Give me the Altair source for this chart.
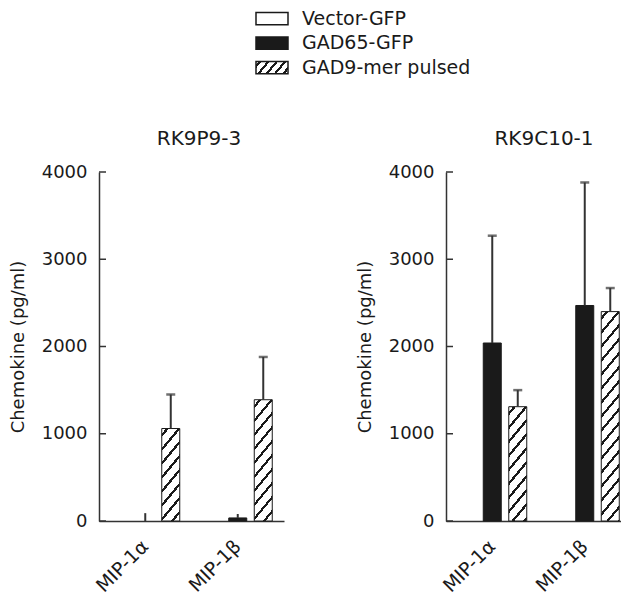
import altair as alt
import pandas as pd

# ---------------- data ----------------
categories = ["MIP-1α", "MIP-1β"]
series = ["Vector-GFP", "GAD65-GFP", "GAD9-mer pulsed"]
panel_titles = ["RK9P9-3", "RK9C10-1"]
y_ticks = [0, 1000, 2000, 3000, 4000]

rk9p9_vector = [0, 0]
rk9p9_vector_err = [0, 0]
rk9p9_gad65 = [0, 35]
rk9p9_gad65_err = [90, 45]
rk9p9_gad9 = [1060, 1390]
rk9p9_gad9_err = [390, 490]

rk9c10_vector = [0, 0]
rk9c10_vector_err = [0, 0]
rk9c10_gad65 = [2040, 2470]
rk9c10_gad65_err = [1230, 1410]
rk9c10_gad9 = [1310, 2400]
rk9c10_gad9_err = [190, 270]

# ---------------- style / layout ----------------
FONT = "DejaVu Sans"
INK = "#1a1a1a"
AXIS = "#333333"
PLOT_H = 349
Y_MAX = 4000
STEP = 92.5          # px per chemokine group
X_PI = 0.254         # inner padding of the group band
GROUP_START = 11.75  # px from the y axis to the first group band
OFF_PI, OFF_PO = 0.294, 0.0
FILL_RANGE = ["white", INK, "white"]

_band = STEP * (1 - X_PI)
_sub = _band / (len(series) - OFF_PI + 2 * OFF_PO)
BAR_W = _sub * (1 - OFF_PI)


def band_params(width):
    n = len(categories)
    po = (width / STEP - (n - X_PI)) / 2
    space = width - STEP * (n - X_PI)
    align = GROUP_START / space
    return po, align


def hatch(w, h, d, s=1.2, th=2.2, color=INK):
    """Linear gradient with hard stops that looks like '/' hatching."""
    h = max(h, 0.5)
    L = s * w + h
    k = L / (s * s * w * w + h * h)
    tc = th * (1 + s * s) ** 0.5
    stops = [{"offset": 0, "color": "white"}]
    c = d * 0.5
    while c - tc / 2 < L:
        a = max(0.0, (c - tc / 2) / L)
        b = min(1.0, (c + tc / 2) / L)
        stops += [
            {"offset": a, "color": "white"},
            {"offset": a, "color": color},
            {"offset": b, "color": color},
            {"offset": b, "color": "white"},
        ]
        c += d
    stops.append({"offset": 1, "color": "white"})
    return {"gradient": "linear", "x1": 0, "y1": 0, "x2": k * s * w, "y2": k * h, "stops": stops}


def ycfg(field):
    return alt.Y(
        field,
        scale=alt.Scale(domain=[0, Y_MAX], nice=False, zero=True),
        axis=alt.Axis(
            values=y_ticks, format="d", title="Chemokine (pg/ml)", ticks=False, tickSize=0,
            grid=False, labelPadding=12, labelFontSize=18, titleFontSize=18,
            titleFontWeight="normal", labelColor=INK, titleColor=INK, domainColor=AXIS,
            domainWidth=1.5, titlePadding=14, labelFont=FONT, titleFont=FONT,
        ),
    )


def panel(title, width, title_dx, vec, vec_e, g65, g65_e, g9, g9_e):
    rows = []
    for name, vals, errs in [(series[0], vec, vec_e), (series[1], g65, g65_e), (series[2], g9, g9_e)]:
        for cat, v, e in zip(categories, vals, errs):
            rows.append({"chemokine": cat, "series": name, "value": v, "err": e, "top": v + e})
    df = pd.DataFrame(rows)

    po, align = band_params(width)
    xenc = alt.X(
        "chemokine:N",
        sort=categories,
        scale=alt.Scale(domain=categories, paddingInner=X_PI, paddingOuter=po, align=align),
        axis=alt.Axis(
            title=None, labelAngle=-45, labelAlign="right", labelBaseline="middle",
            labelPadding=22, ticks=False, tickSize=0, labelFontSize=19, labelColor=INK,
            domainColor=AXIS, domainWidth=1.5, labelFont=FONT,
        ),
    )
    xoff = alt.XOffset("series:N", scale=alt.Scale(domain=series, paddingInner=OFF_PI, paddingOuter=OFF_PO))
    base = alt.Chart(df).encode(x=xenc, xOffset=xoff)

    solid = base.transform_filter(
        (alt.datum.series != series[2]) & (alt.datum.value > 0)
    ).mark_bar(stroke=INK, strokeWidth=1).encode(
        y=ycfg("value:Q"),
        fill=alt.Fill("series:N", scale=alt.Scale(domain=series, range=FILL_RANGE), legend=None),
    )

    layers = [solid]
    for cat, v in zip(categories, g9):
        h = v * PLOT_H / Y_MAX
        layers.append(
            base.transform_filter(
                (alt.datum.series == series[2]) & (alt.datum.chemokine == cat) & (alt.datum.value > 0)
            ).mark_bar(stroke=INK, strokeWidth=1, fill=hatch(BAR_W, h, 14)).encode(y=ycfg("value:Q"))
        )

    err = base.transform_filter(alt.datum.err > 0).mark_rule(color=AXIS, strokeWidth=2).encode(
        y=ycfg("value:Q"), y2="top:Q"
    )
    caps = base.transform_filter(alt.datum.err > 100).mark_tick(
        color=AXIS, thickness=2.5, size=9, orient="horizontal"
    ).encode(y=ycfg("top:Q"))

    tick_df = pd.DataFrame({"value": y_ticks})
    inner_ticks = alt.Chart(tick_df).mark_rule(color=AXIS, strokeWidth=1.5).encode(
        y=ycfg("value:Q"), x=alt.value(0), x2=alt.value(7)
    )

    layers += [err, caps, inner_ticks]
    return alt.layer(*layers).properties(
        width=width,
        height=PLOT_H,
        title=alt.TitleParams(title, fontSize=20, font=FONT, fontWeight="normal", color=INK,
                              dx=title_dx, offset=14, anchor="middle"),
    )


left = panel(panel_titles[0], 185, 7.5, rk9p9_vector, rk9p9_vector_err, rk9p9_gad65,
             rk9p9_gad65_err, rk9p9_gad9, rk9p9_gad9_err)
right = panel(panel_titles[1], 175, 10.5, rk9c10_vector, rk9c10_vector_err, rk9c10_gad65,
              rk9c10_gad65_err, rk9c10_gad9, rk9c10_gad9_err)

# ---------------- legend ----------------
LEG_PO = 0.02
LEG_H = 24.5 * (3 - 0.5 + 2 * LEG_PO)
SW_X0, SW_X1, TXT_X = 157, 189, 203
legend_df = pd.DataFrame({"series": series})
ly = alt.Y("series:N", sort=series,
           scale=alt.Scale(domain=series, paddingInner=0.5, paddingOuter=LEG_PO), axis=None)
sw_solid = alt.Chart(legend_df).transform_filter(alt.datum.series != series[2]).mark_rect(
    stroke=INK, strokeWidth=1.5
).encode(
    y=ly, x=alt.value(SW_X0), x2=alt.value(SW_X1),
    fill=alt.Fill("series:N", scale=alt.Scale(domain=series, range=FILL_RANGE), legend=None),
)
sw_hatch = alt.Chart(legend_df).transform_filter(alt.datum.series == series[2]).mark_rect(
    stroke=INK, strokeWidth=1.5, fill=hatch(SW_X1 - SW_X0, 12.25, 10)
).encode(y=ly, x=alt.value(SW_X0), x2=alt.value(SW_X1))
leg_text = alt.Chart(legend_df).mark_text(
    align="left", baseline="middle", fontSize=19, font=FONT, color=INK
).encode(y=ly, x=alt.value(TXT_X), text="series:N")
legend = alt.layer(sw_solid, sw_hatch, leg_text).properties(width=400, height=LEG_H)

row = alt.hconcat(left, right, spacing=72)
chart = alt.vconcat(legend, row, spacing=51).properties(
    padding={"left": 1, "top": 1, "right": 0, "bottom": 0}
).configure(font=FONT, view=alt.ViewConfig(stroke=None))

chart.save("out.html", embed_options={"renderer": "svg", "actions": False})
